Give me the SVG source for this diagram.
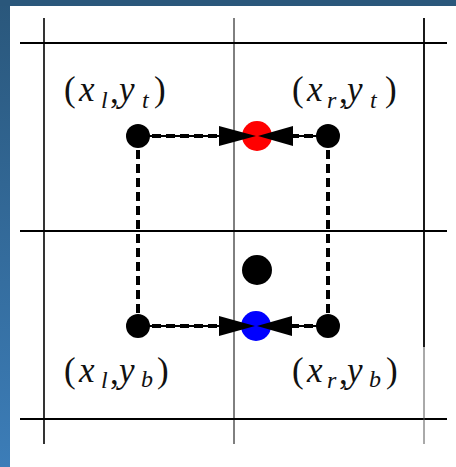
<svg xmlns="http://www.w3.org/2000/svg" width="456" height="467" viewBox="0 0 456 467">
<defs>
<linearGradient id="bg" x1="0" y1="0" x2="0" y2="1">
<stop offset="0" stop-color="#2a577b"/>
<stop offset="1" stop-color="#3c7db8"/>
</linearGradient>
<style>
.grid{stroke:#000;fill:none}
.lbl{font-family:"Liberation Serif","Times New Roman",serif;font-size:35px;fill:#111}
.it{font-style:italic}
.sub{font-style:italic;font-size:24px}
.dash{stroke:#000;stroke-width:4;stroke-dasharray:9 5;fill:none}
.thin{stroke:#000;stroke-width:2;fill:none}
.head{fill:#000}
</style>
</defs>
<rect x="0" y="0" width="456" height="467" fill="url(#bg)"/>
<rect x="0" y="0" width="456" height="6" fill="#2a577b"/>
<rect x="10" y="6" width="446" height="461" fill="#fff"/>
<g id="grid">
<line class="grid" x1="20" y1="43" x2="447" y2="43" stroke-width="2"/>
<line class="grid" x1="20" y1="231" x2="447" y2="231" stroke-width="2"/>
<line class="grid" x1="20" y1="419" x2="447" y2="419" stroke-width="2"/>
<line class="grid" x1="44" y1="18" x2="44" y2="444" stroke-width="1.6"/>
<line class="grid" x1="234" y1="18" x2="234" y2="444" stroke-width="1"/>
<line class="grid" x1="424" y1="18" x2="424" y2="347" stroke-width="1.8"/>
<line x1="424" y1="347" x2="424" y2="444" stroke="#555" stroke-width="1"/>
</g>
<g id="p_lt"><circle cx="138" cy="136" r="12" fill="#000"/>
<text class="lbl" x="64" y="101">(<tspan class="it" x="79">x</tspan><tspan class="sub" x="101" y="108">l</tspan><tspan x="110" y="103">,</tspan><tspan class="it" x="119" y="101">y</tspan><tspan class="sub" x="142" y="108">t</tspan><tspan x="154" y="101">)</tspan></text></g>
<g id="p_rt"><circle cx="328" cy="136" r="12" fill="#000"/>
<text class="lbl" x="292" y="101">(<tspan class="it" x="307">x</tspan><tspan class="sub" x="327" y="108">r</tspan><tspan x="339" y="103">,</tspan><tspan class="it" x="347" y="101">y</tspan><tspan class="sub" x="370" y="108">t</tspan><tspan x="385" y="101">)</tspan></text></g>
<g id="p_lb"><circle cx="138" cy="326" r="12" fill="#000"/>
<text class="lbl" x="64" y="382">(<tspan class="it" x="79">x</tspan><tspan class="sub" x="101" y="388">l</tspan><tspan x="110" y="384">,</tspan><tspan class="it" x="119" y="382">y</tspan><tspan class="sub" x="141" y="387">b</tspan><tspan x="157" y="382">)</tspan></text></g>
<g id="p_rb"><circle cx="328" cy="326" r="12" fill="#000"/>
<text class="lbl" x="292" y="382">(<tspan class="it" x="307">x</tspan><tspan class="sub" x="327" y="388">r</tspan><tspan x="339" y="384">,</tspan><tspan class="it" x="347" y="382">y</tspan><tspan class="sub" x="369" y="387">b</tspan><tspan x="386" y="382">)</tspan></text></g>
<g id="p_top"><circle cx="257" cy="136" r="15" fill="#ff0000"/></g>
<g id="p_bottom"><circle cx="256" cy="326" r="15" fill="#0000ff"/></g>
<g id="p_center"><circle cx="257" cy="270" r="15" fill="#000"/></g>
<g id="connectors">
<line class="dash" x1="138" y1="136" x2="138" y2="326"/>
<line class="dash" x1="328" y1="136" x2="328" y2="326"/>
<line class="thin" x1="138" y1="136" x2="222" y2="136"/>
<line class="dash" x1="138" y1="136" x2="222" y2="136"/>
<polygon class="head" points="219,126 256,136 219,146"/>
<line class="thin" x1="290" y1="136" x2="328" y2="136"/>
<line class="dash" x1="290" y1="136" x2="328" y2="136"/>
<polygon class="head" points="293,126 258,136 293,146"/>
<line class="thin" x1="138" y1="326" x2="222" y2="326"/>
<line class="dash" x1="138" y1="326" x2="222" y2="326"/>
<polygon class="head" points="219,316 255,326 219,336"/>
<line class="thin" x1="290" y1="326" x2="328" y2="326"/>
<line class="dash" x1="290" y1="326" x2="328" y2="326"/>
<polygon class="head" points="292,316 257,326 292,336"/>
</g>
</svg>
